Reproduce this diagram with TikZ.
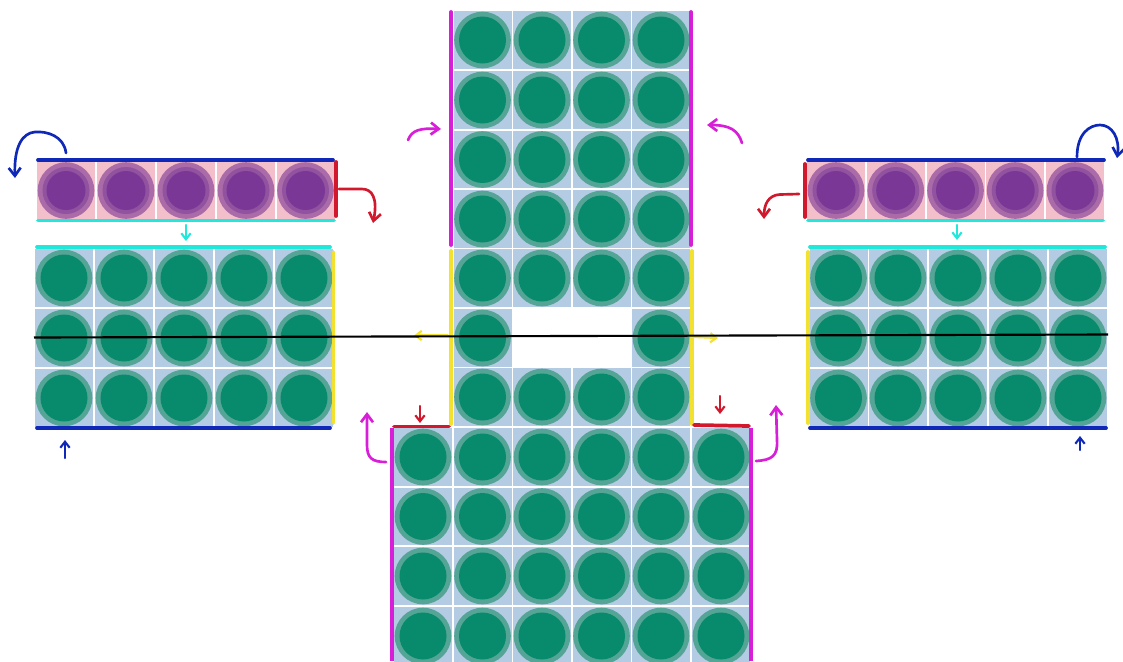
\documentclass[tikz,border=0pt]{standalone}
\usetikzlibrary{arrows.meta}
\definecolor{cellblue}{HTML}{B4CBE4}
\definecolor{ringgreen}{HTML}{55A596}
\definecolor{coregreen}{HTML}{078B6C}
\definecolor{cellpink}{HTML}{F3BFCB}
\definecolor{ringpurpleA}{HTML}{AA6BA8}
\definecolor{ringpurpleB}{HTML}{91529F}
\definecolor{corepurple}{HTML}{7B3796}
\definecolor{edgeblue}{HTML}{0F28B8}
\definecolor{edgecyan}{HTML}{22E8DC}
\definecolor{edgeyellow}{HTML}{F2E12E}
\definecolor{edgered}{HTML}{D1182C}
\definecolor{edgemagenta}{HTML}{D61FD6}
\newcommand{\gcell}[2]{%
  \fill[cellblue] (#1-29,#2-28.8) rectangle (#1+29,#2+28.8);
  \fill[ringgreen] (#1,#2) circle (28.3);
  \fill[coregreen] (#1,#2) circle (23.5);}
\newcommand{\pcell}[2]{%
  \fill[cellpink] (#1-29,#2-29) rectangle (#1+29,#2+29);
  \fill[ringpurpleA] (#1,#2) circle (28.3);
  \fill[ringpurpleB] (#1,#2) circle (23.5);
  \fill[corepurple] (#1,#2) circle (19.5);}
\tikzset{
  x=0.75pt,y=-0.75pt,
  edge/.style={line width=2.8pt,line cap=round},
  hook/.style={line width=2pt,line cap=round,-{Straight Barb[length=6pt,width=9pt,line width=2pt]}},
  smallhook/.style={line width=1.6pt,line cap=round,-{Straight Barb[length=4.5pt,width=7pt,line width=1.6pt]}}
}
\begin{document}
\begin{tikzpicture}
\useasboundingbox (0,0) rectangle (1123,661);
\begin{scope}
\clip (0,0) rectangle (1123,661);
\foreach \x in {66,126,186,246,305.5} {\pcell{\x}{190.5}}
\foreach \x in {836,895.7,955.5,1015.2,1075} {\pcell{\x}{190.5}}
\foreach \y in {278,338,398} {
  \foreach \x in {64,124,184,244,304} {\gcell{\x}{\y}}
  \foreach \x in {838.5,898,958,1018,1078} {\gcell{\x}{\y}}
}
\foreach \y in {40,100,159.5,219,278,397,457,516.5,576,636} {
  \foreach \x in {482.5,542,601.5,661} {\gcell{\x}{\y}}
}
\foreach \x in {482.5,661} {\gcell{\x}{338}}
\foreach \y in {457,516.5,576,636} {
  \foreach \x in {423,721} {\gcell{\x}{\y}}
}
\end{scope}
% edges, left
\draw[edge,edgeblue] (38,160) -- (333,160);
\draw[edge,edgecyan] (38,220.5) -- (334,220.5);
\draw[edge,edgered] (336,162) -- (336,216);
\draw[edge,edgecyan] (37,247) -- (330,247);
\draw[edge,edgeyellow] (333.5,252) -- (333.5,423);
\draw[edge,edgeblue] (37,428) -- (330,428);
% edges, right
\draw[edge,edgeblue] (808,160) -- (1104,160);
\draw[edge,edgecyan] (808,220.5) -- (1103,220.5);
\draw[edge,edgered] (805,164) -- (805,217);
\draw[edge,edgecyan] (810,247) -- (1105,247);
\draw[edge,edgeyellow] (808,252) -- (808,423);
\draw[edge,edgeblue] (810,428) -- (1106,428);
% edges, centre
\draw[edge,edgemagenta] (451,12) -- (451,245);
\draw[edge,edgemagenta] (691,12) -- (691,245);
\draw[edge,edgeyellow] (451,251) -- (451,424);
\draw[edge,edgeyellow] (692,251) -- (692,424);
\draw[edge,edgered] (394,426.5) -- (449,426.5);
\draw[edge,edgered] (694,425) -- (749,426);
\draw[edge,edgemagenta,line cap=butt] (392,428) -- (392,661);
\draw[edge,edgemagenta,line cap=butt] (751,428) -- (751,661);
% arrows
\draw[hook,edgeblue] (66,153) .. controls (64,136) and (47,131) .. (35,132) .. controls (22,133) and (14,147) .. (15,178);
\draw[hook,edgered] (339,189) -- (362,189) .. controls (372,189) and (378,198) .. (373,223);
\draw[smallhook,edgecyan] (186,225) -- (186,241);
\draw[hook,edgeblue] (1077,157) .. controls (1077,133) and (1090,125) .. (1100,125) .. controls (1112,125) and (1120,138) .. (1117,158);
\draw[hook,edgered] (799,194) -- (780,194.5) .. controls (768,195) and (764,205) .. (764,219);
\draw[smallhook,edgecyan] (957,225) -- (957,240);
\draw[smallhook,edgeblue] (65,458) -- (65,440);
\draw[smallhook,edgeblue] (1080,450) -- (1080,436);
\draw[hook,edgemagenta] (408,140) .. controls (412,130) and (420,128) .. (441,129);
\draw[hook,edgemagenta] (742,143) .. controls (738,130) and (730,125) .. (707,125);
\draw[smallhook,edgeyellow] (448,335.5) -- (414,335.5);
\draw[smallhook,edgeyellow] (694,337) -- (718,338);
\draw[smallhook,edgered] (420,406) -- (420,423);
\draw[smallhook,edgered] (720,396) -- (720,414);
\draw[hook,edgemagenta] (386,462) .. controls (372,462) and (367,458) .. (367,445) -- (367,412);
\draw[hook,edgemagenta] (756,461) .. controls (772,460) and (778,456) .. (777,440) -- (776,405);
% black line
\draw[black,line width=1.6pt] (34,337.5) -- (1108,334.5);
\end{tikzpicture}
\end{document}
